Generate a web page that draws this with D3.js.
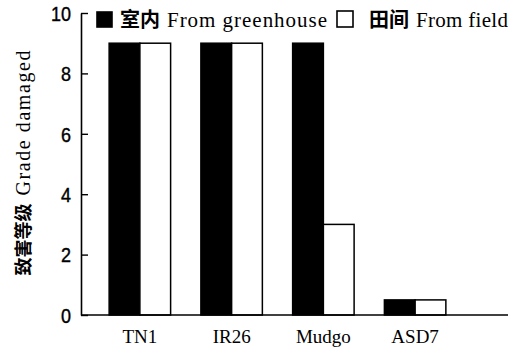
<!DOCTYPE html>
<html><head><meta charset="utf-8">
<script src="https://cdn.jsdelivr.net/npm/d3@7"></script>
<style>body{margin:0;background:#fff}
.serif{font-family:"Liberation Serif","DejaVu Serif","Times New Roman",serif}
.cjk{font-family:"Noto Sans CJK SC",sans-serif;font-weight:bold}
.narrow{font-family:"Liberation Sans","Arial",sans-serif}
</style>
</head><body>
<svg id="c" width="513" height="347"></svg>
<script>
const categories = ["TN1", "IR26", "Mudgo", "ASD7"];
const seriesCn = ["室内", "田间"];
const seriesEn = ["From greenhouse", "From field"];
const greenhouse = [9, 9, 9, 0.5];
const field = [9, 9, 3, 0.5];
const yTicks = [0, 2, 4, 6, 8, 10];
const yTitleCn = "致害等级";
const yTitleEn = "Grade damaged";

const svg = d3.select("#c");
const x0 = d3.scaleBand().domain(categories).range([94, 461]).paddingInner(0.33).paddingOuter(0.165);
const x1 = d3.scaleBand().domain(seriesEn).range([0, x0.bandwidth()]);
const y = d3.scaleLinear().domain([0, 10]).range([315, 13]);
const fills = ["#000", "#fff"];
const data = categories.map((c, i) => ({c, v: [greenhouse[i], field[i]]}));

const grp = svg.append("g").selectAll("g.grp").data(data).join("g").attr("transform", d => `translate(${x0(d.c)},0)`);
grp.selectAll("rect").data(d => d.v.map((v, j) => ({s: seriesEn[j], v, j}))).join("rect")
  .attr("x", d => x1(d.s)).attr("width", x1.bandwidth())
  .attr("y", d => y(d.v)).attr("height", d => y(0) - y(d.v))
  .attr("fill", d => fills[d.j]).attr("stroke", "#000").attr("stroke-width", 1.5);

// y axis
const yAxis = d3.axisLeft(y).tickValues(yTicks).tickSize(-7).tickPadding(10).tickSizeOuter(0);
const ya = svg.append("g").attr("transform", "translate(81,0)").call(yAxis);
ya.attr("font-family", null).attr("font-size", null);
ya.select(".domain").attr("stroke-width", 1.6);
ya.selectAll(".tick line").attr("stroke-width", 1.4);
ya.selectAll(".tick text").attr("class", "narrow")
  .attr("font-size", 20).attr("fill", "#000").attr("x", -10).attr("dy", "0.36em")
  .attr("stroke", "#000").attr("stroke-width", 0.4)
  .attr("textLength", d => String(d).length * 10).attr("lengthAdjust", "spacingAndGlyphs");

// x axis baseline
svg.append("line").attr("x1", 81).attr("x2", 508).attr("y1", y(0)).attr("y2", y(0))
  .attr("stroke", "#000").attr("stroke-width", 1.6);
svg.selectAll("text.cat").data(categories).join("text").attr("class", "serif")
  .attr("x", d => x0(d) + x0.bandwidth() / 2).attr("y", 343)
  .attr("text-anchor", "middle").attr("font-size", 19).text(d => d);

// legend
const leg = [{x: 97, y: 12, s: 15, tx: 120, w: 160}, {x: 337, y: 11, s: 16, tx: 369, w: 92}];
leg.forEach((l, i) => {
  svg.append("rect").attr("x", l.x).attr("y", l.y).attr("width", l.s).attr("height", l.s)
    .attr("fill", fills[i]).attr("stroke", "#000").attr("stroke-width", 1.6);
  const t = svg.append("text").attr("x", l.tx).attr("y", 27).attr("font-size", 20);
  t.append("tspan").attr("class", "cjk").text(seriesCn[i]);
  t.append("tspan").attr("class", "serif").attr("dx", 7).attr("font-size", 21)
    .attr("textLength", l.w).attr("lengthAdjust", "spacing").text(seriesEn[i]);
});

// y title
const yt = svg.append("text").attr("transform", "translate(30,163) rotate(-90)")
  .attr("text-anchor", "middle").attr("font-size", 18);
yt.append("tspan").attr("class", "cjk").text(yTitleCn);
yt.append("tspan").attr("class", "serif").attr("dx", 8).attr("font-size", 20)
  .attr("textLength", 145).attr("lengthAdjust", "spacing").text(yTitleEn);
</script>
</body></html>
